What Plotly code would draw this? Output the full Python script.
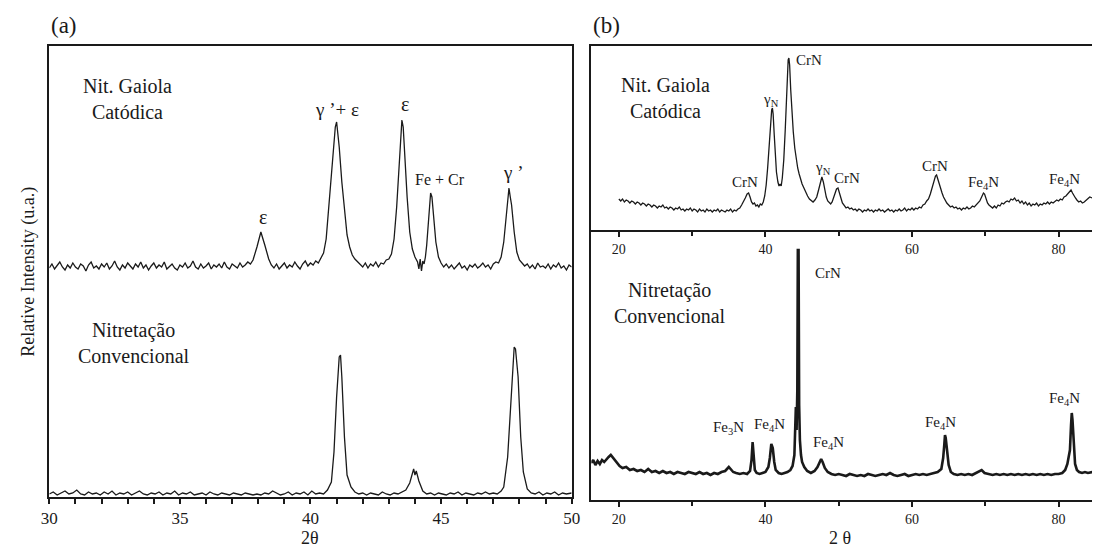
import plotly.graph_objects as go

# ---------------- Panel (a) data: (2θ in deg, intensity in a.u.) ----------------
a_gaiola_pts = [
    (30.0, 229), (30.1, 233), (30.2, 228), (30.3, 231), (30.4, 235), (30.5, 230), (30.6, 227), (30.7, 232),
    (30.8, 229), (30.9, 234), (31.0, 230), (31.1, 228), (31.2, 233), (31.3, 231), (31.4, 226), (31.5, 232),
    (31.6, 235), (31.7, 229), (31.8, 231), (31.9, 228), (32.0, 233), (32.1, 230), (32.2, 234), (32.3, 228),
    (32.4, 231), (32.5, 236), (32.6, 230), (32.7, 227), (32.8, 232), (32.9, 229), (33.0, 234), (33.1, 231),
    (33.2, 228), (33.3, 233), (33.4, 230), (33.5, 235), (33.6, 229), (33.7, 232), (33.8, 227), (33.9, 231),
    (34.0, 234), (34.1, 229), (34.2, 232), (34.3, 230), (34.4, 235), (34.5, 228), (34.6, 231), (34.7, 233),
    (34.8, 229), (34.9, 227), (35.0, 232), (35.1, 230), (35.2, 234), (35.3, 229), (35.4, 231), (35.5, 236),
    (35.6, 230), (35.7, 228), (35.8, 233), (35.9, 229), (36.0, 231), (36.1, 234), (36.2, 228), (36.3, 232),
    (36.4, 230), (36.5, 233), (36.6, 229), (36.7, 235), (36.8, 230), (36.9, 228), (37.0, 233), (37.1, 231),
    (37.2, 229), (37.3, 234), (37.4, 230), (37.5, 232), (37.6, 235), (37.7, 233), (37.8, 237), (37.95, 250),
    (38.1, 265), (38.25, 252), (38.4, 238), (38.5, 232), (38.6, 229), (38.7, 233), (38.8, 228), (38.9, 231),
    (39.0, 234), (39.1, 229), (39.2, 232), (39.3, 230), (39.4, 235), (39.5, 231), (39.6, 228), (39.7, 233),
    (39.8, 236), (39.9, 231), (40.0, 234), (40.1, 232), (40.2, 236), (40.3, 234), (40.4, 239), (40.5, 244),
    (40.6, 258), (40.7, 290), (40.8, 330), (40.9, 360), (40.95, 370), (41.0, 375), (41.05, 365), (41.1, 350),
    (41.2, 315), (41.3, 285), (41.4, 262), (41.5, 250), (41.6, 242), (41.7, 238), (41.8, 235), (41.9, 232),
    (42.0, 230), (42.1, 234), (42.2, 229), (42.3, 233), (42.4, 231), (42.5, 235), (42.6, 230), (42.7, 234),
    (42.8, 233), (42.9, 237), (43.0, 238), (43.1, 243), (43.2, 258), (43.3, 290), (43.4, 340), (43.5, 377),
    (43.55, 370), (43.6, 345), (43.7, 300), (43.8, 265), (43.9, 248), (44.0, 240), (44.1, 235), (44.15, 228),
    (44.2, 238), (44.25, 226), (44.3, 236), (44.35, 233), (44.4, 240), (44.45, 252), (44.5, 270), (44.55, 292),
    (44.6, 304), (44.65, 300), (44.7, 285), (44.8, 255), (44.9, 240), (45.0, 234), (45.1, 230), (45.2, 233),
    (45.3, 229), (45.4, 232), (45.5, 228), (45.6, 231), (45.7, 234), (45.8, 229), (45.9, 231), (46.0, 227),
    (46.1, 232), (46.2, 230), (46.3, 233), (46.4, 229), (46.5, 231), (46.6, 234), (46.7, 230), (46.8, 232),
    (46.9, 228), (47.0, 233), (47.1, 235), (47.2, 234), (47.3, 240), (47.4, 255), (47.5, 285), (47.55, 300),
    (47.6, 309), (47.65, 300), (47.7, 292), (47.8, 265), (47.9, 245), (48.0, 237), (48.1, 234), (48.2, 231),
    (48.3, 233), (48.4, 229), (48.5, 232), (48.6, 228), (48.7, 234), (48.8, 230), (48.9, 231), (49.0, 229),
    (49.1, 233), (49.2, 228), (49.3, 232), (49.4, 230), (49.5, 234), (49.6, 229), (49.7, 231), (49.8, 227),
    (49.9, 232), (50.0, 230),
]

a_conv_pts = [
    (30.0, 3), (30.15, 5), (30.3, 2), (30.45, 4), (30.6, 6), (30.75, 3), (30.9, 4), (31.05, 7), (31.2, 3),
    (31.35, 2), (31.5, 5), (31.65, 3), (31.8, 4), (31.95, 2), (32.1, 5), (32.25, 3), (32.4, 6), (32.55, 2),
    (32.7, 4), (32.85, 3), (33.0, 5), (33.15, 2), (33.3, 4), (33.45, 6), (33.6, 3), (33.75, 2), (33.9, 4),
    (34.05, 3), (34.2, 5), (34.35, 2), (34.5, 4), (34.65, 3), (34.8, 6), (34.95, 2), (35.1, 4), (35.25, 3),
    (35.4, 5), (35.55, 2), (35.7, 3), (35.85, 4), (36.0, 2), (36.15, 5), (36.3, 3), (36.45, 2), (36.6, 4),
    (36.75, 3), (36.9, 2), (37.05, 4), (37.2, 3), (37.35, 2), (37.5, 4), (37.65, 3), (37.8, 2), (37.95, 3),
    (38.1, 2), (38.25, 4), (38.4, 3), (38.55, 6), (38.7, 4), (38.85, 2), (39.0, 3), (39.15, 5), (39.3, 2),
    (39.45, 4), (39.6, 3), (39.75, 5), (39.9, 2), (40.05, 6), (40.2, 3), (40.35, 4), (40.5, 3), (40.65, 7),
    (40.8, 15), (40.9, 45), (41.0, 100), (41.1, 140), (41.15, 142), (41.2, 120), (41.3, 60), (41.4, 22),
    (41.55, 10), (41.7, 5), (41.85, 3), (42.0, 4), (42.15, 2), (42.3, 4), (42.45, 3), (42.6, 2), (42.75, 5),
    (42.9, 3), (43.05, 2), (43.2, 4), (43.35, 3), (43.5, 5), (43.65, 7), (43.8, 14), (43.9, 24), (43.95, 28),
    (44.0, 22), (44.05, 26), (44.15, 16), (44.3, 6), (44.45, 3), (44.6, 4), (44.75, 2), (44.9, 4), (45.05, 3),
    (45.2, 2), (45.35, 4), (45.5, 3), (45.65, 5), (45.8, 2), (45.95, 4), (46.1, 3), (46.25, 2), (46.4, 4),
    (46.55, 3), (46.7, 5), (46.85, 3), (47.0, 4), (47.15, 3), (47.3, 6), (47.4, 10), (47.55, 40), (47.65, 85),
    (47.75, 140), (47.8, 150), (47.85, 148), (47.9, 135), (47.95, 120), (48.05, 60), (48.15, 25), (48.3, 8),
    (48.45, 4), (48.6, 3), (48.75, 5), (48.9, 2), (49.05, 4), (49.2, 3), (49.35, 5), (49.5, 2), (49.65, 4),
    (49.8, 3), (50.0, 4),
]

# ---------------- Panel (b) data ----------------
b_gaiola_pts = [
    (20.0, 31), (20.25, 29), (20.5, 31), (20.75, 28), (21.0, 30), (21.25, 29), (21.5, 27), (21.75, 29),
    (22.0, 28), (22.25, 26), (22.5, 28), (22.75, 27), (23.0, 25), (23.25, 27), (23.5, 26), (23.75, 24),
    (24.0, 26), (24.25, 25), (24.5, 23), (24.75, 25), (25.0, 24), (25.25, 22), (25.5, 24), (25.75, 23),
    (26.0, 25), (26.25, 22), (26.5, 23), (26.75, 21), (27.0, 23), (27.25, 22), (27.5, 20), (27.75, 22),
    (28.0, 21), (28.25, 23), (28.5, 20), (28.75, 21), (29.0, 19), (29.25, 21), (29.5, 20), (29.75, 22),
    (30.0, 19), (30.25, 21), (30.5, 20), (30.75, 18), (31.0, 21), (31.25, 19), (31.5, 20), (31.75, 18),
    (32.0, 21), (32.25, 19), (32.5, 20), (32.75, 18), (33.0, 20), (33.25, 19), (33.5, 21), (33.75, 18),
    (34.0, 20), (34.25, 19), (34.5, 18), (34.75, 20), (35.0, 19), (35.25, 21), (35.5, 18), (35.75, 20),
    (36.0, 19), (36.25, 21), (36.5, 22), (36.75, 25), (37.0, 28), (37.25, 32), (37.5, 36), (37.7, 37),
    (37.9, 33), (38.1, 28), (38.3, 26), (38.5, 27), (38.7, 24), (38.9, 25), (39.1, 23), (39.3, 26),
    (39.5, 25), (39.7, 28), (39.9, 34), (40.1, 45), (40.3, 62), (40.5, 82), (40.7, 108), (40.85, 120),
    (40.95, 122), (41.05, 116), (41.2, 95), (41.35, 75), (41.5, 58), (41.7, 48), (41.85, 44), (42.0, 46),
    (42.15, 44), (42.3, 52), (42.5, 70), (42.7, 100), (42.85, 135), (43.0, 160), (43.1, 170), (43.2, 172),
    (43.3, 165), (43.45, 140), (43.6, 118), (43.8, 98), (44.0, 82), (44.2, 70), (44.4, 62), (44.6, 56),
    (44.8, 50), (45.0, 46), (45.25, 42), (45.5, 37), (45.75, 34), (46.0, 31), (46.25, 29), (46.5, 28),
    (46.75, 30), (47.0, 33), (47.25, 40), (47.5, 49), (47.7, 53), (47.9, 48), (48.1, 40), (48.3, 33),
    (48.5, 29), (48.7, 27), (48.9, 26), (49.1, 28), (49.3, 32), (49.5, 37), (49.7, 41), (49.9, 42),
    (50.1, 38), (50.3, 32), (50.5, 27), (50.75, 24), (51.0, 22), (51.25, 23), (51.5, 21), (51.75, 22),
    (52.0, 20), (52.25, 21), (52.5, 19), (52.75, 21), (53.0, 20), (53.25, 18), (53.5, 20), (53.75, 19),
    (54.0, 21), (54.25, 19), (54.5, 20), (54.75, 18), (55.0, 20), (55.25, 19), (55.5, 21), (55.75, 19),
    (56.0, 20), (56.25, 18), (56.5, 20), (56.75, 21), (57.0, 19), (57.25, 20), (57.5, 18), (57.75, 20),
    (58.0, 19), (58.25, 21), (58.5, 19), (58.75, 20), (59.0, 22), (59.25, 19), (59.5, 21), (59.75, 20),
    (60.0, 22), (60.25, 20), (60.5, 22), (60.75, 21), (61.0, 23), (61.25, 22), (61.5, 25), (61.75, 26),
    (62.0, 29), (62.25, 31), (62.5, 36), (62.75, 42), (63.0, 48), (63.2, 54), (63.35, 55), (63.5, 51),
    (63.7, 46), (63.9, 41), (64.1, 37), (64.3, 33), (64.5, 30), (64.75, 27), (65.0, 25), (65.25, 23),
    (65.5, 24), (65.75, 22), (66.0, 23), (66.25, 21), (66.5, 22), (66.75, 20), (67.0, 22), (67.25, 21),
    (67.5, 23), (67.75, 21), (68.0, 22), (68.25, 24), (68.5, 23), (68.75, 25), (69.0, 27), (69.25, 29),
    (69.5, 33), (69.75, 37), (69.9, 36), (70.1, 31), (70.3, 27), (70.5, 25), (70.75, 23), (71.0, 22),
    (71.25, 24), (71.5, 22), (71.75, 25), (72.0, 24), (72.25, 27), (72.5, 26), (72.75, 28), (73.0, 29),
    (73.25, 28), (73.5, 31), (73.75, 30), (74.0, 32), (74.25, 29), (74.5, 30), (74.75, 27), (75.0, 29),
    (75.25, 26), (75.5, 28), (75.75, 25), (76.0, 27), (76.25, 24), (76.5, 26), (76.75, 25), (77.0, 27),
    (77.25, 24), (77.5, 26), (77.75, 25), (78.0, 27), (78.25, 26), (78.5, 28), (78.75, 26), (79.0, 28),
    (79.25, 27), (79.5, 29), (79.75, 30), (80.0, 29), (80.25, 31), (80.5, 30), (80.75, 33), (81.0, 34),
    (81.25, 36), (81.5, 38), (81.7, 40), (81.9, 37), (82.1, 34), (82.3, 32), (82.5, 30), (82.75, 28),
    (83.0, 29), (83.25, 27), (83.5, 28), (83.75, 30), (84.0, 31), (84.25, 33), (84.6, 32),
]

b_conv_pts = [
    (16.2, 37), (16.5, 40), (16.8, 35), (17.1, 39), (17.4, 36), (17.7, 40), (18.0, 38), (18.3, 41),
    (18.6, 43), (18.9, 45), (19.2, 42), (19.5, 39), (19.8, 36), (20.1, 34), (20.5, 32), (21.0, 33),
    (21.5, 30), (22.0, 31), (22.5, 29), (23.0, 30), (23.5, 28), (24.0, 31), (24.5, 28), (25.0, 29),
    (25.5, 27), (26.0, 29), (26.5, 27), (27.0, 28), (27.5, 26), (28.0, 28), (28.5, 27), (29.0, 26),
    (29.5, 28), (30.0, 27), (30.5, 26), (31.0, 28), (31.5, 26), (32.0, 27), (32.5, 25), (33.0, 27),
    (33.5, 26), (34.0, 28), (34.5, 29), (35.0, 33), (35.3, 31), (35.6, 28), (36.0, 27), (36.5, 26),
    (37.0, 27), (37.5, 26), (37.9, 29), (38.1, 40), (38.25, 58), (38.4, 45), (38.55, 30), (38.8, 27),
    (39.2, 26), (39.6, 27), (40.0, 28), (40.4, 33), (40.6, 42), (40.8, 56), (41.0, 52), (41.2, 38),
    (41.4, 30), (41.8, 27), (42.2, 26), (42.6, 27), (43.0, 28), (43.4, 30), (43.7, 34), (43.95, 45),
    (44.05, 70), (44.15, 93), (44.25, 70), (44.35, 110), (44.42, 250), (44.52, 250), (44.6, 95),
    (44.7, 60), (44.85, 45), (45.0, 38), (45.3, 33), (45.7, 29), (46.2, 27), (46.7, 29), (47.1, 33),
    (47.4, 38), (47.6, 41), (47.8, 38), (48.1, 32), (48.5, 28), (49.0, 26), (49.5, 25), (50.0, 26),
    (50.5, 25), (51.0, 24), (51.5, 26), (52.0, 25), (52.5, 24), (53.0, 25), (53.5, 24), (54.0, 26),
    (54.5, 25), (55.0, 24), (55.5, 25), (56.0, 26), (56.5, 25), (57.0, 27), (57.5, 25), (58.0, 24),
    (58.5, 25), (59.0, 26), (59.5, 24), (60.0, 25), (60.5, 26), (61.0, 25), (61.5, 26), (62.0, 25),
    (62.5, 26), (63.0, 27), (63.5, 28), (64.0, 31), (64.25, 42), (64.4, 55), (64.5, 65), (64.6, 62),
    (64.7, 56), (64.85, 45), (65.0, 35), (65.3, 28), (65.7, 26), (66.2, 25), (66.7, 26), (67.2, 25),
    (67.7, 26), (68.2, 25), (68.7, 27), (69.2, 29), (69.5, 30), (69.9, 27), (70.4, 26), (71.0, 25),
    (71.5, 26), (72.0, 25), (72.5, 26), (73.0, 25), (73.5, 26), (74.0, 25), (74.5, 26), (75.0, 25),
    (75.5, 26), (76.0, 25), (76.5, 26), (77.0, 25), (77.5, 26), (78.0, 25), (78.5, 26), (79.0, 25),
    (79.5, 26), (80.0, 26), (80.5, 27), (80.9, 30), (81.2, 36), (81.4, 47), (81.55, 50), (81.7, 75),
    (81.8, 87), (81.9, 80), (82.0, 65), (82.1, 48), (82.25, 36), (82.5, 30), (82.8, 28), (83.2, 27),
    (83.6, 28), (84.0, 27), (84.6, 28),
]

def unzip(pts):
    return [p[0] for p in pts], [p[1] for p in pts]

# ---------------- figure ----------------
W, H = 1101, 548
SERIF = "Liberation Serif"
INK = "#1a1a1a"

def px_x(p):
    return p / W

def px_y(p):
    return 1 - p / H

fig = go.Figure()
for pts, xa, ya, lw in [(a_gaiola_pts, "x", "y", 1.3), (a_conv_pts, "x", "y", 1.3),
                        (b_gaiola_pts, "x2", "y2", 1.3), (b_conv_pts, "x3", "y3", 2.6)]:
    xs, ys = unzip(pts)
    fig.add_trace(go.Scatter(x=xs, y=ys, mode="lines", line=dict(color=INK, width=lw),
                             xaxis=xa, yaxis=ya, showlegend=False, hoverinfo="skip"))

TOP = 46
a_dom_x = [41 / W, 572 / W]
a_dom_y = [px_y(497), px_y(TOP)]
b_dom_x = [592 / W, 1.0]
b_top_y = [px_y(230), px_y(TOP)]
b_bot_y = [px_y(500), px_y(230)]
b_range = [16.24, 84.56]

axis_common = dict(showgrid=False, zeroline=False, linecolor=INK, linewidth=1.5, showline=True)
tick_a = dict(size=17, family=SERIF, color=INK)
tick_b = dict(size=14, family=SERIF, color=INK)

fig.update_layout(
    width=W, height=H, margin=dict(l=0, r=0, t=0, b=0),
    paper_bgcolor="white", plot_bgcolor="white",
    font=dict(family=SERIF, color=INK),
    xaxis=dict(domain=a_dom_x, range=[30, 50], anchor="y", mirror=True,
               tickmode="linear", tick0=30, dtick=5,
               ticks="outside", ticklen=5, tickwidth=1.5, tickcolor=INK,
               minor=dict(tickmode="linear", tick0=30, dtick=1, ticks="outside", ticklen=5,
                          tickwidth=1.5, tickcolor=INK, showgrid=False),
               tickfont=tick_a, **axis_common),
    xaxis4=dict(domain=a_dom_x, range=[30, 50], anchor="y", overlaying="x",
                tickmode="linear", tick0=30, dtick=1, showticklabels=False,
                ticks="inside", ticklen=4, tickwidth=1.5, tickcolor=INK,
                showgrid=False, zeroline=False, showline=False),
    yaxis=dict(domain=a_dom_y, range=[0, 451], anchor="x", mirror=True,
               showticklabels=False, ticks="", **axis_common),
    xaxis2=dict(domain=b_dom_x, range=b_range, anchor="y2", mirror=True,
                tickmode="linear", tick0=20, dtick=20,
                ticks="outside", ticklen=5, tickwidth=1.5, tickcolor=INK,
                minor=dict(tickmode="linear", tick0=20, dtick=10, ticks="outside", ticklen=4,
                           tickwidth=1.5, tickcolor=INK, showgrid=False),
                tickfont=tick_b, **axis_common),
    yaxis2=dict(domain=b_top_y, range=[0, 184], anchor="x2",
                showticklabels=False, ticks="", **axis_common),
    xaxis3=dict(domain=b_dom_x, range=b_range, anchor="y3",
                tickmode="linear", tick0=20, dtick=20,
                ticks="outside", ticklen=5, tickwidth=1.5, tickcolor=INK,
                minor=dict(tickmode="linear", tick0=20, dtick=10, ticks="outside", ticklen=4,
                           tickwidth=1.5, tickcolor=INK, showgrid=False),
                tickfont=tick_b, **axis_common),
    yaxis3=dict(domain=b_bot_y, range=[0, 270], anchor="x3",
                showticklabels=False, ticks="", **axis_common),
)

ann = []

def label(text, x, y, xref, yref, size, **kw):
    ann.append(dict(text=text, x=x, y=y, xref=xref, yref=yref, showarrow=False,
                    xanchor="center", yanchor="middle",
                    font=dict(size=size, family=SERIF, color=INK), **kw))

# panel titles and axis titles
label("(a)", px_x(56), px_y(25), "paper", "paper", 23)
label("(b)", px_x(607), px_y(25), "paper", "paper", 23)
label("2θ", px_x(306), px_y(538), "paper", "paper", 18)
label("2 θ", px_x(845), px_y(538), "paper", "paper", 18)
label("Relative Intensity (u.a.)", px_x(19), px_y(272), "paper", "paper", 18, textangle=-90)

# panel (a) labels
label("Nit. Gaiola<br>Catódica", 32.98, 398, "x", "y", 20)
label("Nitretação<br>Convencional", 33.24, 154, "x", "y", 20)
label("ε", 38.17, 280, "x", "y", 20)
label("γ ’+ ε", 41.0, 387, "x", "y", 19)
label("ε", 43.6, 393, "x", "y", 20)
label("Fe + Cr", 44.95, 317, "x", "y", 16)
label("γ ’", 47.74, 324, "x", "y", 19)

# panel (b) top labels
label("Nit. Gaiola<br>Catódica", 26.4, 131.5, "x2", "y2", 20)
label("CrN", 37.2, 48, "x2", "y2", 15)
label("γ<sub>N</sub>", 40.8, 130, "x2", "y2", 15)
label("CrN", 45.9, 170, "x2", "y2", 15)
label("γ<sub>N</sub>", 47.8, 62, "x2", "y2", 15)
label("CrN", 51.1, 52, "x2", "y2", 15)
label("CrN", 63.2, 64, "x2", "y2", 15)
label("Fe<sub>4</sub>N", 69.7, 47, "x2", "y2", 15)
label("Fe<sub>4</sub>N", 80.8, 50, "x2", "y2", 15)

# panel (b) bottom labels
label("Nitretação<br>Convencional", 27.0, 197.5, "x3", "y3", 20)
label("CrN", 48.5, 227, "x3", "y3", 15)
label("Fe<sub>3</sub>N", 35.0, 72, "x3", "y3", 15)
label("Fe<sub>4</sub>N", 40.5, 75, "x3", "y3", 15)
label("Fe<sub>4</sub>N", 48.6, 57, "x3", "y3", 15)
label("Fe<sub>4</sub>N", 63.9, 77, "x3", "y3", 15)
label("Fe<sub>4</sub>N", 80.8, 101, "x3", "y3", 15)

fig.update_layout(annotations=ann)
fig.write_html("out.html")
